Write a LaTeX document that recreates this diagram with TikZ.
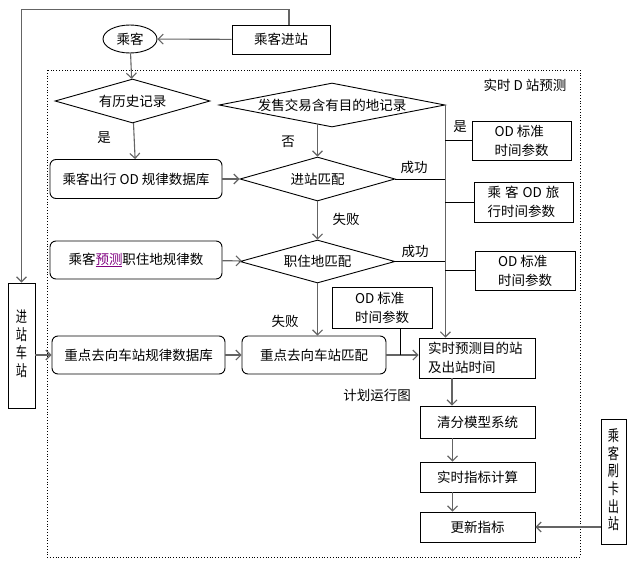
\documentclass[tikz,border=0pt]{standalone}
\usepackage{fontspec}
\setmainfont{Noto Sans CJK SC}
\usepackage{xcolor}
\usepackage{graphicx}
\usetikzlibrary{shapes.geometric, arrows.meta, positioning}
\definecolor{linkpurple}{RGB}{128,0,128}
\definecolor{flowgray}{RGB}{100,100,100}

\begin{document}
\begin{tikzpicture}[x=1pt, y=-1pt, font=\fontsize{13.5}{19}\selectfont,
    plainbox/.style={draw, line width=0.9pt, inner sep=2pt},
    roundbox/.style={draw, line width=0.9pt, rounded corners=6pt, inner sep=2pt},
    decision/.style={draw, diamond, line width=0.9pt, inner sep=0pt},
    flow/.style={draw=flowgray, line width=1.1pt, -{Straight Barb[length=5pt,width=10pt]}},
    link/.style={draw, line width=0.8pt}]
    \useasboundingbox (0,0) rectangle (638,568);

    % entry and outer loop
    \node[draw, ellipse, line width=0.9pt, minimum width=54pt, minimum height=28pt, inner sep=0pt] (pax) at (130,39) {乘客};
    \node[plainbox, minimum width=98pt, minimum height=29pt] (enter) at (281,39.5) {乘客进站};
    \node[plainbox, minimum width=27pt, minimum height=125pt, inner sep=0pt,
          font=\fontsize{14}{14.5}\selectfont] (inbox) at (21.5,345.5)
          {\scalebox{0.8}[1.1]{\begin{tabular}{@{}c@{}}进\\站\\车\\站\end{tabular}}};
    \node[plainbox, minimum width=25pt, minimum height=125pt, inner sep=0pt,
          font=\fontsize{14}{14.5}\selectfont] (outbox) at (613.5,481.5)
          {\scalebox{0.8}[1.1]{\begin{tabular}{@{}c@{}}乘\\客\\刷\\卡\\出\\站\end{tabular}}};

    % prediction frame
    \draw[dotted, line width=0.8pt] (47,70) rectangle (580,557);
    \node (title) at (525,85) {实时 D 站预测};

    % decisions
    \node[decision, aspect=3.5, minimum width=155pt, minimum height=44pt] (histq) at (132.5,101) {有历史记录};
    \node[decision, aspect=5.14, minimum width=226pt, minimum height=44pt] (saleq) at (332,105) {发售交易含有目的地记录};
    \node[decision, aspect=3.5, minimum width=155pt, minimum height=44pt] (entq) at (317.5,179) {进站匹配};
    \node[decision, aspect=3.5, minimum width=155pt, minimum height=43pt] (jobq) at (317.5,261.5) {职住地匹配};

    % databases
    \node[roundbox, minimum width=172pt, minimum height=39pt] (histdb) at (136,179) {乘客出行 OD 规律数据库};
    \node[roundbox, minimum width=172pt, minimum height=38pt] (jobdb) at (136,260) {乘客\textcolor{linkpurple}{\underline{预测}}职住地规律数};
    \node[roundbox, minimum width=173pt, minimum height=38pt] (keydb) at (138.5,355) {重点去向车站规律数据库};
    \node[roundbox, minimum width=144pt, minimum height=38pt] (keyq) at (314,355) {重点去向车站匹配};

    % parameter boxes
    \node[plainbox, align=left, minimum width=99pt, minimum height=39pt] (od1) at (521.5,140.5) {OD 标准\\时间参数};
    \node[plainbox, align=left, minimum width=99pt, minimum height=40pt] (od2) at (523.5,202) {\makebox[72pt][s]{乘\hfill 客\hfill OD\hfill 旅}\\行时间参数};
    \node[plainbox, align=left, minimum width=100pt, minimum height=39pt] (od3) at (525,270.5) {OD 标准\\时间参数};
    \node[plainbox, align=left, minimum width=100pt, minimum height=41pt] (od4) at (382,307.5) {OD 标准\\时间参数};

    % output chain
    \node[plainbox, text width=98pt, align=left, minimum width=116pt, minimum height=40pt] (pred) at (477,358) {实时预测目的站\\及出站时间};
    \node[plainbox, minimum width=115pt, minimum height=32pt] (clear) at (477.5,422) {清分模型系统};
    \node[plainbox, minimum width=115pt, minimum height=30pt] (calc) at (477.5,477) {实时指标计算};
    \node[plainbox, minimum width=115pt, minimum height=30pt] (update) at (477.5,527) {更新指标};

    % labels
    \node (yes1) at (104,138) {是};
    \node (no1) at (288,142) {否};
    \node (yes2) at (460,127) {是};
    \node (ok1) at (414,167) {成功};
    \node (fail1) at (346,219) {失败};
    \node (ok2) at (415,251) {成功};
    \node (fail2) at (285,321) {失败};
    \node (plan) at (377,395) {计划运行图};

    % connectors
    \draw[flow] (enter) -- (pax);
    \draw[flow] ([xshift=8pt]enter.north) -- ++(0,-15) -| (inbox.north);
    \draw[flow] (pax) -- (histq);
    \draw[flow] (histq) -- (histdb);
    \draw[flow] (entq.north |- saleq.-128) -- (entq.north);
    \draw[flow] (histdb) -- (entq);
    \draw[flow] (entq) -- (jobq);
    \draw[flow] (jobdb) -- (jobq);
    \draw[flow] (jobq) -- (keyq.north -| jobq.south);
    \draw[flow] (inbox.east |- keydb.west) -- (keydb.west);
    \draw[flow] (keydb) -- (keyq);
    \draw[flow] (keyq.east) -- (keyq.east -| pred.west);
    \draw[flow] (saleq.east) -- (saleq.east |- pred.north);
    \draw[link] (entq.east) -- (entq.east -| saleq.east);
    \draw[link] (jobq.east) -- (jobq.east -| saleq.east);
    \draw[link] (od1.west) -- (od1.west -| saleq.east);
    \draw[link] (od2.west) -- (od2.west -| saleq.east);
    \draw[link] (od3.west) -- (od3.west -| saleq.east);
    \draw[link] ([xshift=18pt]od4.south) -- ([xshift=18pt]od4.south |- keyq.east);
    \draw[flow] ([xshift=-25pt]pred.south) -- ([xshift=-25pt]pred.south |- clear.north);
    \draw[flow] ([xshift=-25pt]clear.south) -- ([xshift=-25pt]clear.south |- calc.north);
    \draw[flow] ([xshift=-25pt]calc.south) -- ([xshift=-25pt]calc.south |- update.north);
    \draw[flow] (outbox.west |- update.east) -- (update.east);
\end{tikzpicture}
\end{document}
